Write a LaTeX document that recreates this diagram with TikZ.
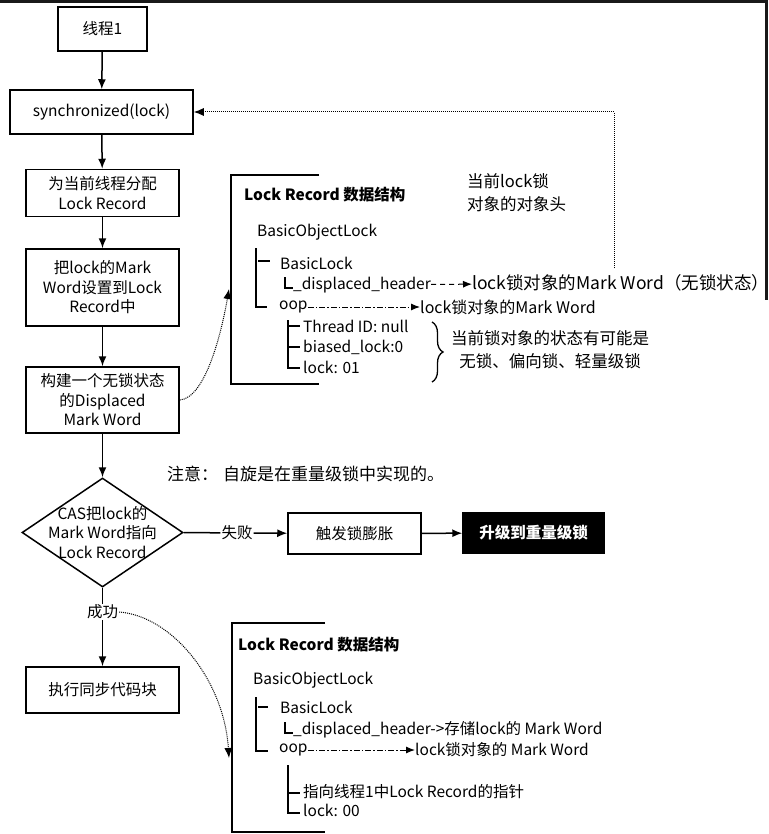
\documentclass[tikz,border=0pt]{standalone}
\usepackage{fontspec}
\setmainfont{Noto Sans CJK SC}
\usetikzlibrary{arrows.meta, shapes.geometric, decorations.pathreplacing, positioning}
\newcommand{\lrfont}{\fontsize{15.5}{19.5}\selectfont}
\newcommand{\sidefont}{\fontsize{16.5}{23}\selectfont}

\begin{document}
\begin{tikzpicture}[x=1pt, y=-1pt,
  every node/.style={font=\lrfont},
  stepbox/.style={draw, line width=1.5pt, align=center, inner sep=0pt},
  decision/.style={draw, diamond, line width=1.5pt, inner sep=0pt,
    minimum width=161pt, minimum height=109pt},
  edgelabel/.style={fill=white, inner sep=1pt},
  txt/.style={anchor=west, inner sep=0pt},
  frame/.style={line width=1.5pt},
  tree/.style={line width=1.3pt},
  flow/.style={line width=1.5pt, -{Latex[length=10pt,width=8pt]}},
  dotarrow/.style={densely dotted, line width=1pt, -{Latex[length=10pt,width=8pt]}},
  dasharrow/.style={dash pattern=on 5pt off 4pt, line width=1pt, -{Latex[length=9pt,width=7pt]}},
  dotdash/.style={dash pattern=on 6pt off 2pt on 1.5pt off 2pt, line width=1pt,
    -{Latex[length=9pt,width=7pt]}}]
  \useasboundingbox (0,0) rectangle (768,834);
  \fill[black!90] (0,0) rectangle (768,3);
  \fill[black!90] (765,0) rectangle (768,300);

  % main flow
  \node[stepbox, minimum width=89pt, minimum height=44pt] (thread) at (102.5,29) {线程1};
  \node[stepbox, minimum width=183pt, minimum height=44pt] (sync) at (101.5,112) {synchronized(lock)};
  \node[stepbox, minimum width=153pt, minimum height=47pt] (alloc) at (102.5,193) {为当前线程分配\\Lock Record};
  \node[stepbox, minimum width=153pt, minimum height=77pt] (copy) at (102.5,287.5) {把lock的Mark\\Word设置到Lock\\Record中};
  \node[stepbox, minimum width=153pt, minimum height=66pt] (build) at (102.5,400) {构建一个无锁状态\\的Displaced\\Mark Word};
  \node[decision] (cas) at (102.5,532.5) {};
  \node[align=center, inner sep=0pt] (castext) at (cas) {CAS把lock的\\Mark Word指向\\Lock Record};
  \node[stepbox, minimum width=133pt, minimum height=41pt] (inflate) at (354.5,533.5) {触发锁膨胀};
  \node[stepbox, fill=black, text=white, font=\lrfont\bfseries,
    minimum width=141pt, minimum height=40pt] (heavy) at (533.5,533) {升级到重量级锁};
  \node[stepbox, minimum width=153pt, minimum height=46pt] (exec) at (102.5,690) {执行同步代码块};
  \node[edgelabel] (fail) at (237,533) {失败};
  \node[edgelabel] (ok) at (102.5,612) {成功};
  \node[txt, font=\fontsize{17}{20}\selectfont] (note) at (167,474) {注意：\hspace{5pt}自旋是在重量级锁中实现的。};

  \draw[flow] (thread) -- (sync);
  \draw[flow] (sync) -- (alloc);
  \draw[flow] (alloc) -- (copy);
  \draw[flow] (copy) -- (build);
  \draw[flow] (build) -- (cas);
  \draw[line width=1.5pt] (cas.east) -- (fail);
  \draw[flow] (fail) -- (inflate);
  \draw[flow] (inflate) -- (heavy);
  \draw[line width=1.5pt] (cas.south) -- (ok);
  \draw[flow] (ok) -- (exec);

  % first lock record
  \draw[frame] (319,175) -| (231,384) -- (319,384);
  \node[txt, font=\lrfont\bfseries] (rec1title) at (244,195) {Lock Record 数据结构};
  \node[txt] (rec1obj) at (257,232) {BasicObjectLock};
  \node[txt] (rec1basic) at (280,263) {BasicLock};
  \node[txt] (rec1disp) at (293,285) {\_displaced\_header};
  \node[txt, font=\fontsize{17.5}{20}\selectfont] (rec1dispval) at (472,283) {lock锁对象的Mark Word（无锁状态）};
  \node[txt] (rec1oop) at (279,307) {oop};
  \node[txt, font=\fontsize{16}{19}\selectfont] (rec1oopval) at (420,307) {lock锁对象的Mark Word};
  \node[txt] (rec1tid) at (303,326) {Thread ID: null};
  \node[txt] (rec1bias) at (303,347) {biased\_lock:0};
  \node[txt] (rec1lock) at (303,367) {lock: 01};
  \node[align=center, font=\sidefont] (rec1state) at (550,350) {当前锁对象的状态有可能是\\无锁、偏向锁、轻量级锁};
  \node[txt, align=left, font=\sidefont] (hdrnote) at (467,193) {当前lock锁\\对象的对象头};

  \draw[tree] (256,248) -- (256,307) -- (267,307);
  \draw[tree] (258,261) -- (270,261);
  \draw[tree] (285,277) -- (285,288) -- (293,288);
  \draw[tree] (288,320) -- (288,368) -- (300,368);
  \draw[tree] (288,326) -- (300,326);
  \draw[tree] (288,347) -- (300,347);
  \draw[tree, decorate, decoration={brace, amplitude=11pt}] (432,322) -- (432,382);

  \draw[dasharrow] (rec1disp) -- (rec1dispval);
  \draw[dotdash] (rec1oop) -- (rec1oopval);

  % second lock record
  \draw[frame] (325,623) -| (232,832) -- (325,832);
  \node[txt, font=\lrfont\bfseries] (rec2title) at (238,645) {Lock Record 数据结构};
  \node[txt] (rec2obj) at (253,680) {BasicObjectLock};
  \node[txt] (rec2basic) at (280,707) {BasicLock};
  \node[txt] (rec2disp) at (293,730) {\_displaced\_header->存储lock的 Mark Word};
  \node[txt] (rec2oop) at (279,750) {oop};
  \node[txt] (rec2oopval) at (415,750) {lock锁对象的 Mark Word};
  \node[txt] (rec2ptr) at (303,792) {指向线程1中Lock Record的指针};
  \node[txt] (rec2lock) at (303,810) {lock: 00};

  \draw[tree] (256,697) -- (256,751) -- (268,751);
  \draw[tree] (258,707) -- (268,707);
  \draw[tree] (285,722) -- (285,733) -- (293,733);
  \draw[tree] (288,765) -- (288,813) -- (300,813);
  \draw[tree] (288,793) -- (300,793);

  \draw[dotdash] (rec2oop) -- (rec2oopval);

  % dotted links
  \coordinate (hdrtop) at (614,268);
  \coordinate (rec1in) at (229,289);
  \coordinate (rec2in) at (229,758);
  \draw[dotarrow] (hdrtop) |- (sync.east);
  \draw[dotarrow] (build.east) .. controls (206,398) and (222,330) .. (rec1in);
  \draw[dotarrow] (ok.east) .. controls (172,616) and (224,680) .. (rec2in);
\end{tikzpicture}
\end{document}
